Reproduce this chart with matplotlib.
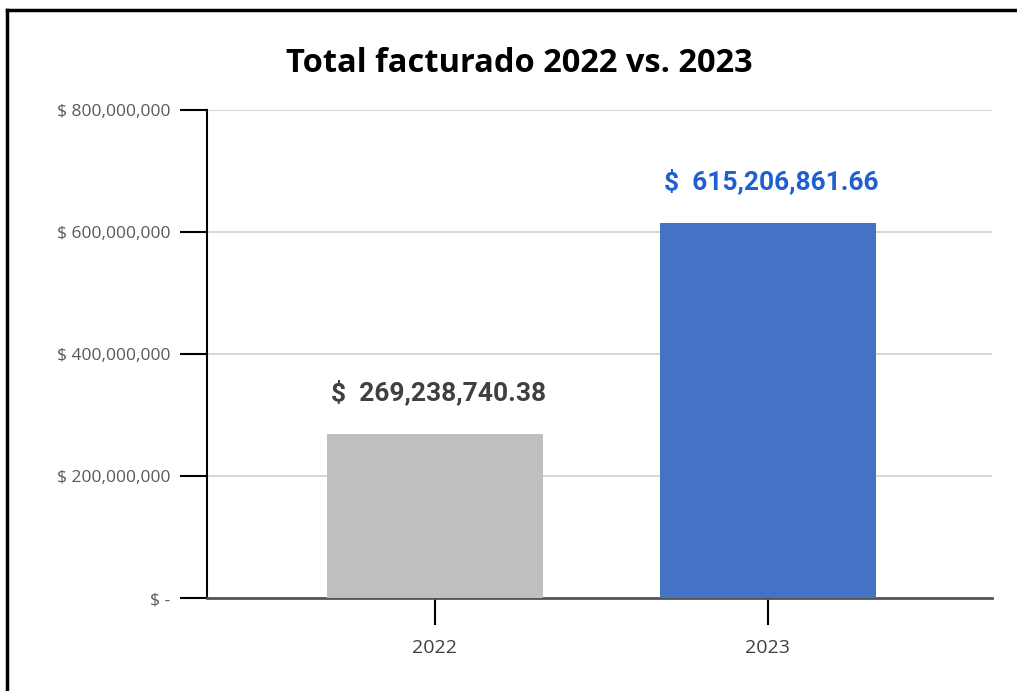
import matplotlib
matplotlib.use("Agg")
import matplotlib.pyplot as plt
from matplotlib.lines import Line2D

title = "Total facturado 2022 vs. 2023"
categories = ["2022", "2023"]
values = [269238740.38, 615206861.66]
bar_colors = ["#BFBFBF", "#4472C4"]
label_colors = ["#404040", "#1F5FD1"]
yticks = [0, 200000000, 400000000, 600000000, 800000000]
ytick_labels = ["$ -", "$ 200,000,000", "$ 400,000,000", "$ 600,000,000", "$ 800,000,000"]

W, H = 1017, 691
fig = plt.figure(figsize=(W / 100, H / 100), dpi=100)
ax = fig.add_axes([207 / W, 93 / H, (992 - 207) / W, 488 / H])

x = list(range(len(categories)))
ax.bar(x, values, width=0.65, color=bar_colors, zorder=3)
ax.set_xlim(-0.685, 1.674)
ax.set_ylim(0, 800000000)

ax.set_yticks(yticks)
ax.set_yticklabels(ytick_labels, fontfamily="Open Sans", fontsize=12.5, color="#595959")
ax.set_xticks(x)
ax.set_xticklabels(categories, fontfamily="Open Sans", fontsize=14, color="#404040")

ax.yaxis.grid(True, color="#D0D0D0", linewidth=1.2, zorder=0)
ax.set_axisbelow(True)

for s in ["top", "right"]:
    ax.spines[s].set_visible(False)
ax.spines["left"].set_color("black")
ax.spines["left"].set_linewidth(1.5)
ax.spines["bottom"].set_color("#555555")
ax.spines["bottom"].set_linewidth(2)

ax.tick_params(axis="y", length=19.5, width=1.5, color="black", pad=7)
ax.tick_params(axis="x", length=19.5, width=1.5, color="black", pad=10)

for xi, v, c in zip(x, values, label_colors):
    ax.annotate(f"$  {v:,.2f}", (xi, v), xytext=(2.5, 30), textcoords="offset points",
                ha="center", va="center", fontsize=19, fontweight="bold",
                fontfamily="Roboto", color=c)

fig.text(519 / W, 1 - 64 / H, title, ha="center", va="center",
         fontsize=23.5, fontweight="bold", fontfamily="Open Sans", color="black")

# outer frame (left and top)
fig.add_artist(Line2D([7 / W, 7 / W], [0, 1 - 10 / H], transform=fig.transFigure,
                      color="black", linewidth=2.5))
fig.add_artist(Line2D([7 / W, 1], [1 - 10 / H, 1 - 10 / H], transform=fig.transFigure,
                      color="black", linewidth=2.5))

fig.savefig("out.png", dpi=100)
